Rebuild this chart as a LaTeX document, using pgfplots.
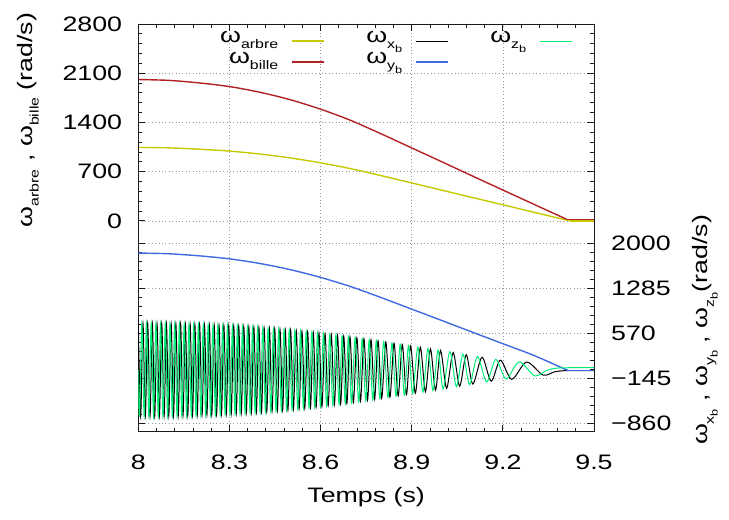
\documentclass[border=0pt]{standalone}
\usepackage{pgfplots}
\pgfplotsset{compat=1.18}
\usepackage{fontspec}
\setmainfont{Liberation Sans}[FakeStretch=1.28]
\definecolor{carbre}{RGB}{200,200,0}
\definecolor{cbille}{RGB}{178,34,34}
\definecolor{cyb}{RGB}{65,105,225}
\definecolor{czb}{RGB}{0,238,118}
\definecolor{cgrid}{RGB}{150,150,150}
\newcommand\sub[1]{\raisebox{-0.3em}{\fontsize{12.5}{13}\selectfont #1}}
\newcommand\subsub[1]{\raisebox{-0.3em}{\fontsize{10}{10}\selectfont #1}}
\newcommand\samp[2]{\hspace{14bp}\textcolor{#1}{\rule[0.5bp]{32bp}{#2}}}
\pgfplotsset{
  base/.style={
    scale only axis, width=455.7bp, height=407.7bp,
    at={(0,0)}, anchor=south west,
    xmin=8, xmax=9.5,
    axis line style={black!90, line width=0.8pt},
    every tick/.style={black!90, line width=0.8pt},
    major tick length=7bp, minor tick length=4bp,
    tick align=inside,
    /pgf/number format/assume math mode=true,
    /pgf/number format/1000 sep={},
    major grid style={cgrid, line width=0.6pt, dash pattern=on 0.8bp off 2.6bp},
  },
}
\begin{document}
\fontsize{21}{25}\selectfont
\begin{tikzpicture}
\begin{axis}[base,
  ymin=-3000, ymax=2800,
  xtick={8,8.3,8.6,8.9,9.2,9.5},
  xticklabels={8,8.3,8.6,8.9,9.2,9.5},
  minor xtick={8.06,8.12,8.18,8.24,8.36,8.42,8.48,8.54,8.66,8.72,8.78,8.84,8.96,9.02,9.08,9.14,9.26,9.32,9.38,9.44},
  ytick={0,700,1400,2100,2800},
  yticklabels={0,700,1400,2100,2800},
  minor ytick={140,280,420,560,840,980,1120,1260,1540,1680,1820,1960,2240,2380,2520,2660},
  xmajorgrids, ymajorgrids,
  xticklabel style={yshift=-16bp},
  yticklabel style={xshift=-9bp},
  xlabel={Temps (s)},
  xlabel style={at={(axis description cs:0.5,0)}, anchor=center, yshift=-65bp},
  ylabel={ω\sub{arbre} , ω\sub{bille} (rad/s)},
  ylabel style={at={(axis description cs:-0.242,0.7645)}, anchor=center},
]
\addplot[carbre, line width=1.4pt, smooth, tension=0.5] coordinates {
(8.0,1044) (8.1,1038) (8.2,1019) (8.3,992) (8.4,950) (8.5,895) (8.6,825) (8.7,741) (8.8,642) (8.9,539) (9.0,435) (9.1,331) (9.2,228) (9.3,124) (9.42,0)};
\addplot[carbre, line width=1.4pt] coordinates {(9.42,0) (9.5,0)};
\addplot[cbille, line width=1.4pt, smooth, tension=0.5] coordinates {
(8.0,2010) (8.1,1998) (8.2,1962) (8.3,1910) (8.4,1829) (8.5,1723) (8.6,1588) (8.7,1427) (8.8,1236) (8.9,1037) (9.0,838) (9.1,637) (9.2,438) (9.3,239) (9.41,22)};
\addplot[cbille, line width=1.4pt] coordinates {(9.41,22) (9.5,22)};
\end{axis}
\begin{axis}[base,
  ymin=-1000, ymax=5500,
  hide x axis,
  ytick={-860,-145,570,1285,2000},
  yticklabels={−860,−145,570,1285,2000},
  minor ytick={-717,-574,-431,-288,-2,141,284,427,713,856,999,1142,1428,1571,1714,1857},
  yticklabel pos=right,
  ymajorgrids,
  yticklabel style={xshift=10bp},
  ylabel={ω\sub{x\subsub{b}} , ω\sub{y\subsub{b}} , ω\sub{z\subsub{b}}(rad/s)},
  ylabel style={at={(axis description cs:1.2436,0.2494)}, anchor=center},
  legend columns=3,
  legend plot pos=right,
  legend cell align=right,
  legend style={at={(axis description cs:0.177,0.99)}, anchor=north west, draw=none, fill=none, inner sep=0pt,
    nodes={inner sep=1bp, text height=13bp, text depth=6bp},
    row sep=0pt,
    /tikz/every odd column/.append style={column sep=0bp},
    /tikz/every even column/.append style={column sep=40bp}},
]
\addlegendimage{empty legend}
\addlegendentry{ω\sub{arbre}\samp{carbre}{1.4pt}}
\addlegendimage{empty legend}
\addlegendentry{ω\sub{x\subsub{b}}\samp{black}{1pt}}
\addlegendimage{empty legend}
\addlegendentry{ω\sub{z\subsub{b}}\samp{czb}{1pt}}
\addlegendimage{empty legend}
\addlegendentry{ω\sub{bille}\samp{cbille}{1.4pt}}
\addlegendimage{empty legend}
\addlegendentry{ω\sub{y\subsub{b}}\samp{cyb}{1.4pt}}
\addplot[black, line width=1pt, smooth, forget plot] coordinates {
(8.0000,725) (8.0077,-755) (8.0154,724) (8.0231,-754) (8.0309,724) (8.0386,-754) (8.0463,723) (8.0540,-753) (8.0617,722) (8.0694,-752)
(8.0772,722) (8.0849,-752) (8.0926,721) (8.1003,-751) (8.1081,720) (8.1159,-749) (8.1237,718) (8.1315,-747) (8.1393,716) (8.1471,-744)
(8.1550,713) (8.1628,-742) (8.1706,711) (8.1784,-740) (8.1862,709) (8.1940,-738) (8.2018,707) (8.2098,-735) (8.2178,704) (8.2258,-732)
(8.2338,701) (8.2418,-729) (8.2498,698) (8.2577,-726) (8.2657,695) (8.2737,-723) (8.2817,692) (8.2897,-720) (8.2977,688) (8.3059,-716)
(8.3142,684) (8.3224,-711) (8.3307,679) (8.3390,-706) (8.3473,674) (8.3555,-701) (8.3638,669) (8.3721,-696) (8.3804,664) (8.3887,-691)
(8.3969,659) (8.4055,-686) (8.4142,653) (8.4229,-679) (8.4316,646) (8.4403,-672) (8.4490,639) (8.4577,-666) (8.4664,632) (8.4751,-659)
(8.4838,625) (8.4925,-652) (8.5013,618) (8.5106,-644) (8.5200,609) (8.5293,-635) (8.5387,600) (8.5480,-626) (8.5573,591) (8.5667,-616)
(8.5760,582) (8.5853,-607) (8.5947,573) (8.6044,-597) (8.6147,561) (8.6249,-585) (8.6352,549) (8.6454,-573) (8.6557,537) (8.6659,-560)
(8.6762,524) (8.6865,-548) (8.6967,512) (8.7079,-535) (8.7195,496) (8.7312,-518) (8.7428,480) (8.7544,-502) (8.7660,464) (8.7777,-486)
(8.7893,448) (8.8011,-469) (8.8147,429) (8.8283,-449) (8.8418,409) (8.8554,-429) (8.8690,389) (8.8826,-409) (8.8962,369) (8.9119,-387)
(8.9285,344) (8.9451,-362) (8.9617,319) (8.9783,-337) (8.9949,294) (9.0148,-308) (9.0363,261) (9.0578,-274) (9.0794,227) (9.1012,-240)
(9.1314,187) (9.1616,-194) (9.1918,141) (9.2290,-165) (9.2780,110) (9.3320,-97) (9.3700,-45) (9.4000,-28) (9.4300,-25) (9.5000,-25)};
\addplot[cyb, line width=1.4pt, smooth, tension=0.5, forget plot] coordinates {
(8.0,1848) (8.1,1837) (8.2,1804) (8.3,1756) (8.4,1682) (8.5,1584) (8.6,1460) (8.7,1312) (8.8,1137) (8.9,954) (9.0,771) (9.1,586) (9.2,403) (9.3,220) (9.415,-25)};
\addplot[cyb, line width=1.4pt, forget plot] coordinates {(9.415,-25) (9.5,-25)};
\addplot[czb, line width=1pt, smooth, forget plot] coordinates {
(8.0000,-15) (8.0039,-755) (8.0116,725) (8.0193,-754) (8.0270,724) (8.0348,-754) (8.0425,724) (8.0502,-753) (8.0579,723) (8.0656,-752)
(8.0733,722) (8.0811,-752) (8.0888,722) (8.0965,-751) (8.1042,721) (8.1120,-750) (8.1198,719) (8.1276,-748) (8.1354,717) (8.1432,-745)
(8.1510,714) (8.1589,-743) (8.1667,712) (8.1745,-741) (8.1823,710) (8.1901,-739) (8.1979,708) (8.2058,-736) (8.2138,705) (8.2218,-733)
(8.2298,702) (8.2378,-730) (8.2458,699) (8.2538,-727) (8.2617,696) (8.2697,-724) (8.2777,693) (8.2857,-721) (8.2937,690) (8.3018,-717)
(8.3100,686) (8.3183,-713) (8.3265,681) (8.3348,-708) (8.3431,677) (8.3514,-703) (8.3596,671) (8.3679,-698) (8.3762,666) (8.3845,-693)
(8.3928,661) (8.4011,-688) (8.4099,656) (8.4186,-681) (8.4273,649) (8.4360,-675) (8.4447,642) (8.4534,-668) (8.4621,636) (8.4708,-661)
(8.4795,628) (8.4882,-654) (8.4969,621) (8.5060,-646) (8.5153,614) (8.5247,-637) (8.5340,605) (8.5434,-628) (8.5527,596) (8.5620,-618)
(8.5714,588) (8.5807,-609) (8.5900,578) (8.5994,-600) (8.6095,564) (8.6198,-588) (8.6300,552) (8.6403,-576) (8.6505,540) (8.6608,-564)
(8.6710,527) (8.6813,-551) (8.6916,515) (8.7018,-539) (8.7137,500) (8.7253,-522) (8.7370,484) (8.7486,-506) (8.7602,468) (8.7718,-490)
(8.7835,452) (8.7951,-473) (8.8079,434) (8.8215,-454) (8.8351,414) (8.8486,-434) (8.8622,394) (8.8758,-414) (8.8894,374) (8.9030,-393)
(8.9202,351) (8.9368,-368) (8.9534,326) (8.9700,-343) (8.9866,300) (9.0032,-317) (9.0256,277) (9.0471,-282) (9.0686,236) (9.0902,-249)
(9.1163,198) (9.1465,-206) (9.1767,153) (9.2104,-160) (9.2535,112) (9.3050,-110) (9.3450,-20) (9.3800,15) (9.4300,20) (9.5000,20)};
\end{axis}
\path[use as bounding box] (-138.3bp,-88.3bp) rectangle (590.7bp,431.7bp);
\end{tikzpicture}
\end{document}
